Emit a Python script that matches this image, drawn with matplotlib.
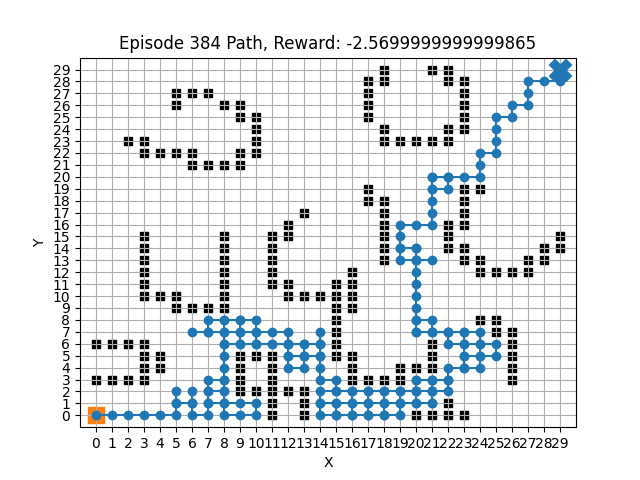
import numpy as np
import matplotlib.pyplot as plt

# obstacles, listed row by row (y: list of x)
obstacle_rows = {
    29: [18, 21, 22],
    28: [17, 18, 22, 23],
    27: [5, 6, 7, 17, 23],
    26: [5, 8, 9, 17, 23],
    25: [9, 10, 17, 23],
    24: [10, 18, 22, 23],
    23: [2, 3, 10, 18, 19, 20, 21, 22],
    22: [3, 4, 5, 6, 9, 10],
    21: [6, 7, 8, 9],
    19: [17, 23, 24],
    18: [17, 18, 23],
    17: [13, 18, 23],
    16: [12, 18, 22, 23],
    15: [3, 8, 11, 12, 18, 22, 29],
    14: [3, 8, 11, 18, 22, 23, 28, 29],
    13: [3, 8, 11, 18, 23, 24, 27, 28],
    12: [3, 8, 11, 16, 24, 25, 26, 27],
    11: [3, 8, 11, 12, 15, 16],
    10: [3, 4, 5, 8, 12, 13, 14, 15, 16],
    9: [5, 6, 7, 8, 15, 16],
    8: [15, 24, 25],
    7: [15, 25, 26],
    6: [0, 1, 2, 3, 15, 21, 26],
    5: [3, 4, 9, 10, 11, 15, 16, 21, 26],
    4: [3, 4, 9, 11, 16, 19, 20, 21, 26],
    3: [0, 1, 2, 3, 9, 11, 16, 17, 18, 19, 26],
    2: [9, 10, 11, 12, 13],
    1: [11, 13, 22],
    0: [11, 13, 20, 21, 22, 23],
}
obs_x = [x for y, xs in obstacle_rows.items() for x in xs]
obs_y = [y for y, xs in obstacle_rows.items() for x in xs]

# agent path (cells visited in order)
path = [
    (0, 0), (1, 0), (2, 0), (3, 0), (4, 0), (5, 0), (5, 1), (5, 2), (5, 1), (6, 1),
    (6, 2), (6, 1), (6, 0), (7, 0), (7, 1), (7, 2), (7, 3), (8, 3), (8, 2), (7, 2),
    (7, 1), (8, 1), (8, 0), (9, 0), (10, 0), (10, 1), (9, 1), (8, 1), (8, 2), (8, 3),
    (8, 4), (8, 5), (8, 6), (8, 7), (8, 8), (7, 8), (7, 7), (6, 7), (7, 7), (8, 7),
    (9, 7), (9, 8), (8, 8), (9, 8), (10, 8), (10, 7), (10, 6), (9, 6), (8, 6), (9, 6),
    (9, 7), (10, 7), (11, 7), (12, 7), (12, 6), (11, 6), (10, 6), (11, 6), (12, 6), (12, 5),
    (12, 4), (13, 4), (13, 5), (12, 5), (13, 5), (14, 5), (13, 5), (13, 6), (12, 6), (13, 6),
    (14, 6), (14, 7), (14, 6), (14, 5), (14, 4), (14, 3), (15, 3), (15, 2), (14, 2), (14, 1),
    (14, 0), (15, 0), (15, 1), (14, 1), (15, 1), (16, 1), (16, 0), (15, 0), (16, 0), (17, 0),
    (17, 1), (16, 1), (16, 2), (15, 2), (16, 2), (17, 2), (17, 1), (18, 1), (18, 0), (17, 0),
    (18, 0), (19, 0), (19, 1), (18, 1), (18, 2), (17, 2), (18, 2), (19, 2), (19, 1), (20, 1),
    (20, 2), (19, 2), (20, 2), (21, 2), (21, 1), (20, 1), (21, 1), (21, 2), (22, 2), (22, 3),
    (21, 3), (21, 2), (21, 3), (20, 3), (20, 2), (20, 3), (21, 3), (22, 3), (22, 4), (23, 4),
    (24, 4), (24, 5), (23, 5), (23, 4), (23, 5), (23, 6), (22, 6), (22, 7), (21, 7), (20, 7),
    (20, 8), (21, 8), (21, 7), (22, 7), (23, 7), (23, 6), (24, 6), (24, 5), (25, 5), (25, 6),
    (24, 6), (24, 7), (23, 7), (22, 7), (21, 7), (20, 7), (20, 8), (20, 9), (20, 10), (20, 11),
    (20, 12), (20, 13), (21, 13), (20, 13), (19, 13), (19, 14), (20, 14), (20, 13), (20, 14), (19, 14),
    (19, 15), (19, 16), (20, 16), (21, 16), (21, 17), (21, 18), (21, 19), (22, 19), (22, 20), (21, 20),
    (21, 19), (21, 20), (22, 20), (23, 20), (24, 20), (24, 21), (24, 22), (25, 22), (25, 23), (25, 24),
    (25, 25), (26, 25), (26, 26), (27, 26), (27, 27), (27, 28), (28, 28), (29, 28), (29, 29),
]
path_x = [p[0] for p in path]
path_y = [p[1] for p in path]

start = (0, 0)
goal = (29, 29)
episode = 384
reward = -2.5699999999999865
grid_size = 30

plt.figure(figsize=(6.4, 4.8), dpi=100)
plt.scatter(obs_x, obs_y, marker='s', s=30, color='black')
plt.scatter(start[0], start[1], marker='s', s=130, color='tab:orange')
plt.plot(path_x, path_y, marker='o', color='tab:blue')
plt.scatter(goal[0], goal[1], marker='X', s=250, color='tab:blue', zorder=3)
plt.xlim(-1, grid_size)
plt.ylim(-1, grid_size)
plt.xticks(range(grid_size))
plt.yticks(range(grid_size))
plt.grid(True)
plt.title(f'Episode {episode} Path, Reward: {reward}')
plt.xlabel('X')
plt.ylabel('Y')
plt.savefig('out.png')
